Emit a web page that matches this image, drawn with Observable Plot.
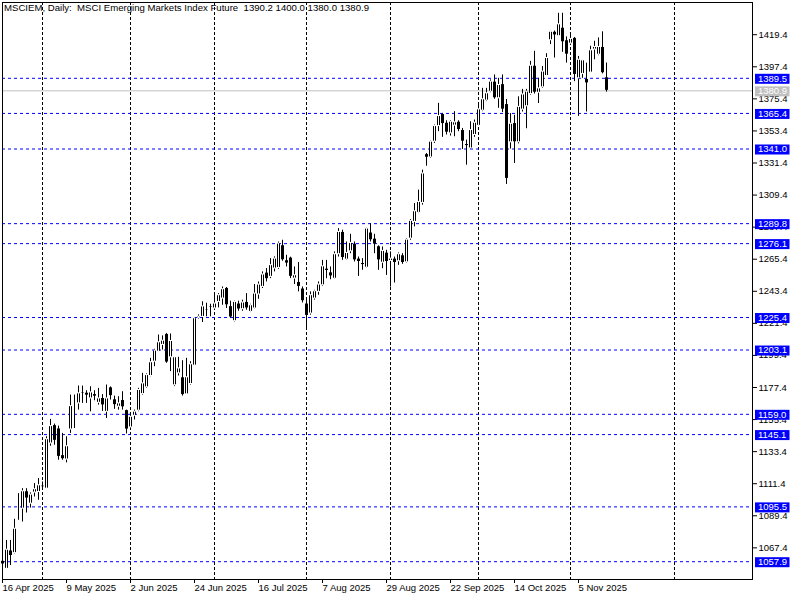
<!DOCTYPE html>
<html><head><meta charset="utf-8">
<style>
html,body{margin:0;padding:0;background:#fff;}
#chart{position:relative;width:800px;height:600px;overflow:hidden;}
</style>
<script src="https://cdn.jsdelivr.net/npm/d3@7"></script>
<script src="https://cdn.jsdelivr.net/npm/@observablehq/plot@0.6"></script>
</head><body><div id="chart"></div>
<script>
// ---- data ----
const openP = [1058.5,1053.0,1065.6,1063.8,1093.6,1094.3,1106.2,1097.7,1105.3,1105.7,
1109.4,1108.0,1139.0,1151.6,1149.3,1131.0,1128.0,1148.6,1165.1,1166.5,
1173.4,1173.8,1169.9,1172.9,1166.9,1170.2,1160.7,1177.5,1169.3,1164.2,
1168.8,1161.9,1150.0,1158.0,1161.5,1172.9,1177.5,1185.3,1195.1,1202.0,
1206.6,1214.1,1198.1,1178.9,1187.1,1184.4,1172.7,1179.8,1192.4,1224.9,
1225.8,1231.1,1232.2,1231.6,1236.1,1238.4,1245.7,1233.2,1222.9,1235.0,
1231.1,1236.1,1229.3,1231.6,1241.2,1246.4,1256.2,1253.3,1259.0,1259.4,
1275.0,1264.7,1266.5,1252.1,1249.8,1245.3,1235.0,1228.1,1238.4,1243.0,
1247.5,1258.9,1256.4,1252.0,1268.8,1284.1,1265.1,1270.8,1276.1,1265.8,
1262.8,1259.6,1283.7,1279.5,1274.3,1263.0,1269.9,1264.2,1265.8,1264.0,
1268.1,1263.3,1279.5,1291.0,1297.2,1304.0,1337.5,1335.2,1346.0,1356.7,
1365.0,1359.0,1351.7,1357.0,1359.7,1354.0,1344.4,1341.4,1350.6,1356.9,
1367.3,1374.2,1380.3,1387.2,1375.8,1385.5,1371.8,1345.6,1358.8,1345.6,
1368.0,1370.3,1378.7,1398.1,1379.6,1383.3,1391.1,1415.6,1421.4,1418.4,
1424.2,1415.6,1413.3,1417.2,1389.5,1392.5,1389.0,1393.4,1409.2,1405.7,
1411.0,1390.2];
const highP = [1060.6,1072.5,1072.5,1087.0,1104.6,1108.0,1108.0,1105.1,1111.5,1114.9,
1112.6,1143.6,1155.5,1152.3,1150.9,1145.9,1143.6,1172.2,1172.2,1178.4,
1178.4,1175.2,1177.9,1175.2,1176.8,1172.5,1179.1,1177.8,1171.5,1171.1,
1174.5,1161.9,1159.2,1161.9,1176.8,1187.1,1186.7,1197.4,1203.6,1213.4,
1212.8,1214.5,1214.1,1198.1,1198.1,1195.8,1197.4,1195.1,1225.2,1227.2,
1236.2,1235.2,1234.5,1240.7,1241.8,1246.4,1246.0,1236.6,1236.6,1236.6,
1237.3,1241.8,1234.5,1248.0,1249.8,1256.7,1259.0,1265.8,1267.0,1277.2,
1278.4,1268.1,1266.8,1260.1,1263.1,1246.4,1237.9,1243.0,1244.1,1249.8,
1264.6,1264.6,1260.1,1270.4,1286.4,1285.3,1277.2,1282.5,1277.2,1266.9,
1265.8,1286.7,1289.8,1282.5,1274.6,1273.8,1271.5,1270.4,1266.9,1269.7,
1269.2,1279.5,1292.6,1303.6,1312.8,1326.5,1337.9,1346.4,1357.4,1372.3,
1365.4,1360.4,1360.4,1366.6,1360.4,1355.1,1347.1,1359.7,1360.9,1371.2,
1382.6,1382.6,1388.4,1391.8,1389.5,1391.8,1375.0,1365.3,1364.1,1376.8,
1381.9,1381.9,1401.1,1408.0,1389.5,1397.6,1406.4,1421.7,1421.9,1434.1,
1434.1,1417.9,1420.7,1417.5,1404.5,1401.8,1399.9,1411.5,1414.9,1417.2,
1421.4,1400.0];
const lowP = [1053.0,1053.0,1055.3,1063.3,1086.3,1085.1,1091.3,1094.7,1102.3,1100.0,
1106.9,1108.0,1137.1,1137.8,1127.5,1127.5,1125.7,1145.9,1149.3,1161.9,
1166.5,1166.5,1160.7,1168.3,1165.3,1161.0,1156.2,1168.8,1162.4,1161.9,
1161.9,1145.5,1148.0,1155.1,1160.8,1172.2,1176.8,1184.8,1191.7,1202.0,
1203.1,1194.0,1188.3,1178.0,1185.3,1171.5,1172.7,1179.1,1192.4,1224.2,
1222.0,1225.9,1225.9,1230.4,1232.0,1233.8,1231.6,1225.0,1222.4,1229.7,
1229.7,1230.4,1228.8,1231.3,1237.9,1245.3,1249.8,1252.1,1256.7,1258.5,
1264.0,1260.1,1252.1,1248.0,1243.0,1235.4,1217.9,1227.0,1237.3,1240.7,
1246.8,1252.0,1251.3,1251.6,1266.9,1264.6,1264.6,1269.2,1263.5,1253.6,
1257.8,1259.3,1277.2,1269.2,1257.8,1258.9,1254.3,1246.3,1249.1,1261.2,
1261.9,1262.8,1278.4,1287.6,1296.7,1302.5,1329.2,1334.5,1344.8,1352.9,
1349.0,1350.6,1349.9,1349.4,1352.9,1340.7,1329.9,1340.7,1349.0,1356.7,
1366.6,1373.5,1379.6,1375.1,1368.9,1366.0,1316.7,1341.0,1331.1,1344.5,
1366.4,1354.9,1378.0,1378.7,1372.2,1382.6,1391.1,1412.6,1403.4,1418.4,
1407.3,1399.9,1412.6,1387.2,1363.4,1389.5,1366.4,1393.4,1402.2,1405.0,
1392.5,1380.0];
const closeP = [1056.0,1066.1,1061.8,1080.5,1094.3,1106.2,1101.2,1103.9,1107.6,1110.3,
1109.7,1141.9,1150.9,1140.8,1129.8,1128.2,1137.1,1164.6,1165.8,1173.4,
1173.8,1171.8,1174.0,1171.1,1169.9,1165.1,1169.9,1171.5,1165.3,1166.5,
1163.8,1148.5,1157.3,1160.8,1175.7,1180.2,1185.9,1194.7,1202.7,1208.4,
1209.5,1194.5,1209.3,1198.1,1190.5,1172.2,1184.4,1193.3,1224.9,1226.0,
1233.0,1230.2,1233.2,1235.0,1240.7,1244.8,1233.8,1225.4,1236.1,1230.9,
1235.7,1231.6,1233.8,1241.8,1248.0,1254.9,1251.7,1261.3,1265.8,1276.1,
1264.7,1262.4,1253.3,1254.4,1246.4,1236.6,1226.5,1240.7,1243.4,1248.0,
1260.5,1257.3,1253.6,1268.8,1284.1,1266.2,1269.7,1276.6,1264.6,1263.5,
1261.4,1286.4,1278.4,1275.4,1264.6,1271.1,1263.5,1265.8,1262.8,1268.8,
1262.8,1278.8,1291.7,1298.3,1304.7,1324.2,1335.0,1346.0,1356.7,1363.6,
1358.1,1352.2,1359.7,1359.3,1354.0,1346.0,1343.0,1354.0,1359.0,1368.2,
1375.1,1379.2,1387.2,1375.8,1384.9,1368.0,1320.5,1358.3,1345.6,1369.9,
1378.4,1380.3,1398.1,1379.6,1382.6,1394.1,1403.4,1421.4,1418.9,1426.5,
1414.2,1405.7,1416.5,1391.8,1402.2,1401.8,1386.0,1408.7,1411.0,1411.0,
1393.0,1380.9];

const levels = [1389.5,1365.4,1341.0,1289.8,1276.1,1225.4,1203.1,1159.0,1145.1,1095.5,1057.9];
const lastPrice = 1380.9;
const yTicks = [1419.4,1397.4,1375.4,1353.4,1331.4,1309.4,1287.4,1265.4,1243.4,1221.4,1199.4,1177.4,1155.4,1133.4,1111.4,1089.4,1067.4];
const dateTickIdx = [0,16,32,48,64,80,96,112,128,144];
const dateTickLabels = ["16 Apr 2025","9 May 2025","2 Jun 2025","24 Jun 2025","16 Jul 2025","7 Aug 2025","29 Aug 2025","22 Sep 2025","14 Oct 2025","5 Nov 2025"];
const gridIdx = [10,32,53,76,97,119,142,168];
const symbolName = "MSCIEM";
const timeframe = "Daily";
const description = "MSCI Emerging Markets Index Future";

// ---- chart ----
const bars = openP.map((o, i) => ({i, o, h: highP[i], l: lowP[i], c: closeP[i]}));
const FONT = "'Liberation Sans', Arial, sans-serif";
const bodyLo = d => Math.min(d.o, d.c), bodyHi = d => Math.max(d.o, d.c);

const plot = Plot.plot({
  width: 800, height: 600,
  marginLeft: 2, marginTop: 2, marginRight: 48, marginBottom: 21,
  style: {fontFamily: FONT, fontSize: "9.5px", color: "black", background: "white", overflow: "visible"},
  x: {type: "linear", domain: [0, 187.5], range: [2, 752]},
  y: {domain: [1057.9, 1389.5], range: [561.2, 77.8]},
  marks: [
    Plot.ruleX(gridIdx, {stroke: "black", strokeDasharray: "3,2"}),
    Plot.ruleY(levels, {stroke: "#0000ff", strokeDasharray: "3,3"}),
    Plot.ruleY([lastPrice], {stroke: "#c0c0c0"}),
    // wicks
    Plot.ruleX(bars, {x: "i", y1: "l", y2: "h", stroke: "black", strokeWidth: 1}),
    // bodies (black outline / filled)
    Plot.ruleX(bars, {x: "i", y1: bodyLo, y2: bodyHi, stroke: "black", strokeWidth: 3,
      insetTop: -0.5, insetBottom: -0.5}),
    // hollow interior for rising candles
    Plot.ruleX(bars.filter(d => d.c - d.o > 1), {x: "i", y1: bodyLo, y2: bodyHi, stroke: "white", strokeWidth: 1,
      insetTop: 0.5, insetBottom: 0.5}),
    Plot.axisY(yTicks, {anchor: "right", tickSize: 4, tickPadding: 2, tickFormat: d => d.toFixed(1), label: null}),
    Plot.axisX(dateTickIdx, {anchor: "bottom", tickSize: 4, tickPadding: 1, textAnchor: "start",
      tickFormat: d => dateTickLabels[dateTickIdx.indexOf(d)], label: null}),
    Plot.frame({stroke: "black"})
  ]
});

const svg = d3.select(plot);
const ys = plot.scale("y");
const g = svg.append("g").attr("font-family", FONT).attr("font-size", "9.5px").attr("text-anchor", "start");
function tag(v, color) {
  const yy = ys.apply(v) + 0.5;
  g.append("rect").attr("x", 755).attr("y", yy - 4.5).attr("width", 34.5).attr("height", 10).attr("fill", color);
  g.append("text").attr("x", 758).attr("y", yy).attr("dy", "0.35em").attr("fill", "white").text(v.toFixed(1));
}
levels.forEach(v => tag(v, "#0000ff"));
tag(lastPrice, "#c0c0c0");

const last = bars[bars.length - 1];
const titleText = `${symbolName}, ${timeframe}:\u00a0 ${description}\u00a0 ${last.o.toFixed(1)} ${last.h.toFixed(1)} ${last.l.toFixed(1)} ${last.c.toFixed(1)}`;
svg.append("text").attr("x", 4).attr("y", 11).attr("text-anchor", "start")
  .attr("font-family", FONT).attr("font-size", "9.7px").attr("fill", "black")
  .attr("textLength", 365).attr("lengthAdjust", "spacingAndGlyphs")
  .text(titleText);

document.getElementById("chart").appendChild(plot);
</script>
</body></html>
